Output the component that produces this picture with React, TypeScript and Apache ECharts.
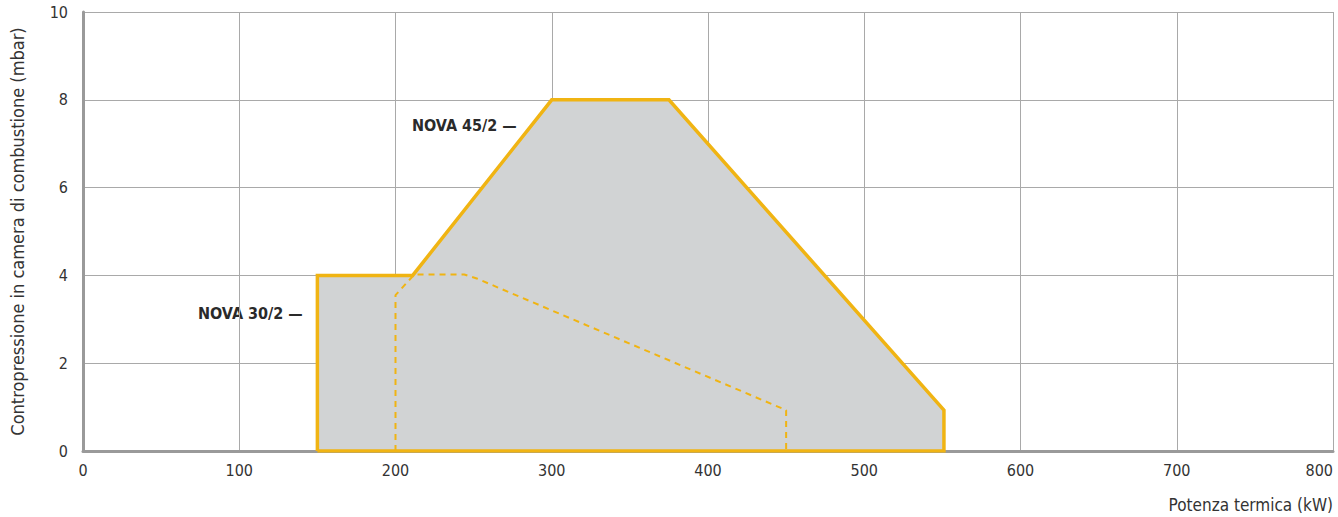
import React, { useEffect, useRef } from "react";
import * as echarts from "echarts";

const xTicks = [0, 100, 200, 300, 400, 500, 600, 700, 800];
const yTicks = [0, 2, 4, 6, 8, 10];

// NOVA 45/2 envelope (solid)
const nova45: [number, number][] = [
  [150, 0],
  [150, 4],
  [211, 4],
  [300, 8],
  [375, 8],
  [551, 0.93],
  [551, 0],
  [150, 0],
];

// NOVA 30/2 envelope (dashed)
const nova30: [number, number][] = [
  [200, 0],
  [200, 3.55],
  [212, 4.02],
  [244, 4.02],
  [252, 3.93],
  [450, 0.93],
  [450, 0],
];

const xName = "Potenza termica (kW)";
const yName = "Contropressione in camera di combustione (mbar)";
const label45 = "NOVA 45/2 —";
const label30 = "NOVA 30/2 —";

const FONT = '"Liberation Sans Narrow", "DejaVu Sans Condensed", "Roboto", sans-serif';
const YELLOW = "#f0b413";

export default function App() {
  const ref = useRef<HTMLDivElement>(null);
  useEffect(() => {
    if (!ref.current) return;
    const chart = echarts.init(ref.current, undefined, { renderer: "svg" });
    chart.setOption({
      animation: false,
      backgroundColor: "#ffffff",
      grid: { left: 78, right: 5, top: 12, bottom: 66, containLabel: false },
      xAxis: {
        type: "value",
        min: xTicks[0],
        max: xTicks[xTicks.length - 1],
        interval: 100,
        axisLine: { show: true, onZero: false, lineStyle: { color: "#9a9a9a", width: 3 } },
        axisTick: { show: false },
        splitLine: { show: true, lineStyle: { color: "#a9a9a9", width: 1 } },
        axisLabel: {
          color: "#333",
          fontFamily: FONT,
          fontSize: 16,
          margin: 11,
          alignMaxLabel: "right",
        },
      },
      yAxis: {
        type: "value",
        min: yTicks[0],
        max: yTicks[yTicks.length - 1],
        interval: 2,
        axisLine: { show: true, lineStyle: { color: "#9a9a9a", width: 3 } },
        axisTick: { show: false },
        splitLine: { show: true, lineStyle: { color: "#a9a9a9", width: 1 } },
        axisLabel: { color: "#333", fontFamily: FONT, fontSize: 16, margin: 15 },
        name: yName,
        nameLocation: "middle",
        nameGap: 57,
        nameTextStyle: { color: "#333", fontFamily: FONT, fontSize: 18 },
      },
      series: [
        {
          type: "line",
          data: nova45,
          symbol: "none",
          z: 5,
          lineStyle: { color: YELLOW, width: 3.5, join: "miter" },
          areaStyle: { color: "#d1d3d4", opacity: 1, origin: 0 },
        },
        {
          type: "line",
          data: nova30,
          symbol: "none",
          z: 6,
          lineStyle: { color: YELLOW, width: 2, type: [6, 5] },
        },
      ],
      graphic: [
        {
          type: "text",
          right: 5,
          top: 496,
          style: { text: xName, fill: "#333", font: `17px ${FONT}` },
        },
        {
          type: "text",
          left: 412,
          top: 117,
          style: { text: label45, fill: "#2a2a2a", font: `bold 16px ${FONT}` },
        },
        {
          type: "text",
          left: 198,
          top: 305,
          style: { text: label30, fill: "#2a2a2a", font: `bold 16px ${FONT}` },
        },
      ],
    });
    return () => chart.dispose();
  }, []);
  return (
    <div
      ref={ref}
      style={{ position: "fixed", left: 0, top: 0, width: 1338, height: 517 }}
    />
  );
}
